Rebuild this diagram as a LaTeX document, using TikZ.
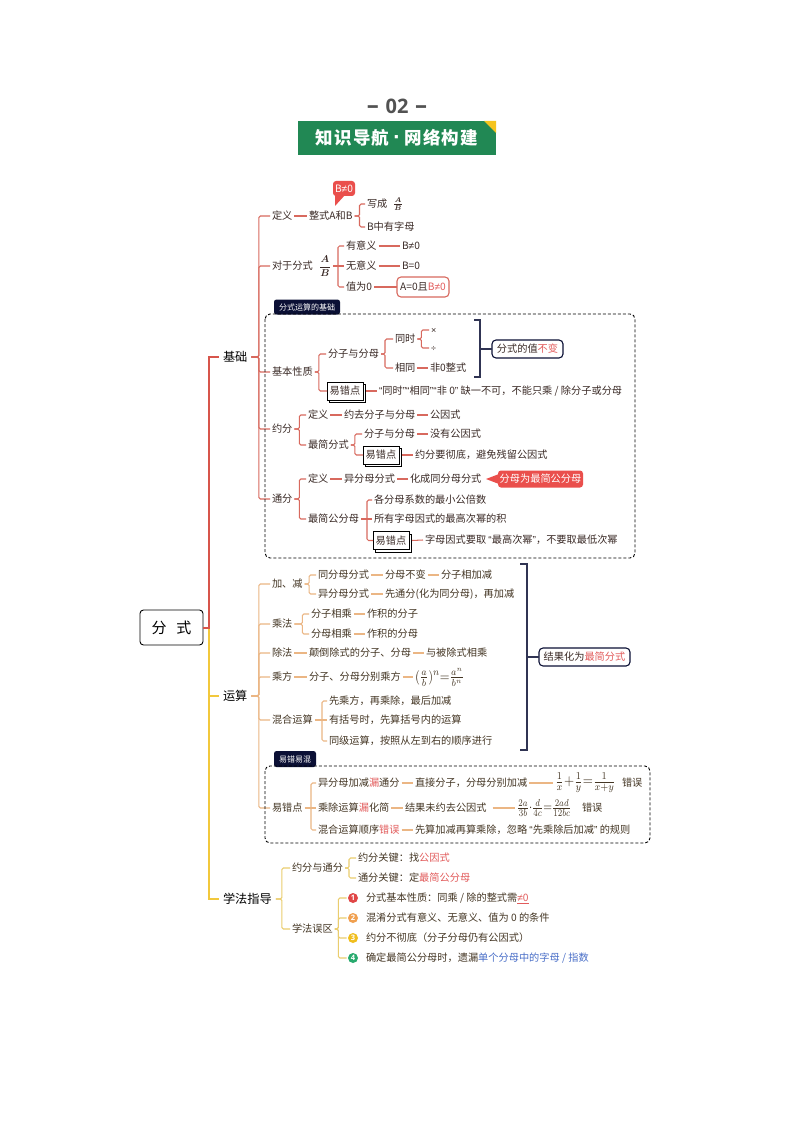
\documentclass[tikz,border=0pt]{standalone}
\usepackage{amsmath}
\usepackage{graphicx}
\usepackage{fontspec}
\setmainfont{Noto Sans CJK SC}
\newfontfamily\numfont{Open Sans}
\newfontfamily\lsf{Liberation Sans}
\usetikzlibrary{shadows}
\definecolor{rtx}{HTML}{E25B5B}
\definecolor{rl}{HTML}{D8695E}
\definecolor{ol}{HTML}{EBB684}
\definecolor{yl}{HTML}{EACD6E}
\definecolor{navy}{HTML}{0B1035}
\definecolor{txa}{HTML}{3A2A26}
\definecolor{txb}{HTML}{443624}
\definecolor{redf}{HTML}{EA4F4C}
\definecolor{bang}{RGB}{33,136,84}
\definecolor{corn}{RGB}{245,196,30}
\definecolor{mainy}{RGB}{242,200,60}
\definecolor{mainr}{RGB}{215,85,75}
\definecolor{cA}{RGB}{224,70,70}
\definecolor{cB}{RGB}{240,160,80}
\definecolor{cC}{RGB}{240,190,30}
\definecolor{cD}{RGB}{40,170,110}
\definecolor{bluet}{HTML}{4A6FC8}
\newcommand{\rdt}[1]{\textcolor{rtx}{#1}}
\newcommand{\neqt}{{\lsf ≠}}
\newcommand{\lqt}{{\lsf “}}
\newcommand{\rqt}{{\lsf ”}}
\tikzset{
 tx/.style={anchor=west,xshift=-2pt,inner sep=0pt,outer sep=2pt,text=txa,font=\fontsize{10.2}{12}\selectfont,text height=8.6pt,text depth=1.6pt},
 txo/.style={tx,text=txb},
 lv/.style={anchor=west,xshift=-4pt,inner sep=0pt,outer sep=4pt,text=black,font=\fontsize{12.2}{14}\selectfont,text height=10.4pt,text depth=1.8pt},
 rk/.style={draw=rl,line width=1.05pt,rounded corners=1.5pt},
 ok/.style={draw=ol,line width=1.05pt,rounded corners=1.5pt},
 yk/.style={draw=yl,line width=1.05pt,rounded corners=1.5pt},
 navyk/.style={draw=navy!85,line width=1.1pt},
 errbox/.style={draw=black,fill=white,line width=0.8pt,minimum width=36pt,minimum height=18pt,inner sep=0pt,outer sep=0pt,text=txa,font=\fontsize{10.2}{12}\selectfont,copy shadow={opacity=1,fill=white,draw=black,shadow xshift=2.4pt,shadow yshift=-2.4pt}},
 pill/.style={draw=#1,line width=1.1pt,rounded corners=4pt,fill=white,inner sep=0pt,outer sep=0pt,text=txa,font=\fontsize{10.2}{12}\selectfont},
 tagbox/.style={fill=navy,rounded corners=2.5pt,text=white,inner sep=0pt,font=\fontsize{8}{10}\selectfont},
 dbox/.style={draw=black,dash pattern=on 3pt off 2pt,line width=0.9pt,rounded corners=5pt},
 numc/.style={circle,minimum size=10pt,inner sep=0pt,outer sep=1.5pt,fill=#1,text=white,font=\numfont\bfseries\fontsize{7.5}{8}\selectfont},
 callout/.style={fill=redf,rounded corners=3pt,inner sep=0pt,text=white,font=\fontsize{10.2}{12}\selectfont},
 mth/.style={inner sep=0pt,outer sep=2pt,text=txa}
}
\begin{document}
\begin{tikzpicture}[x=1pt,y=-1pt]
\useasboundingbox (0,0) rectangle (794,1123);
\fill[white] (0,0) rectangle (794,1123);
% title
\node[inner sep=0pt,text=black!68,font=\numfont\bfseries\fontsize{20}{22}\selectfont] (ttl) at (397,106) {{\fontsize{24}{24}\selectfont –}\,\,02\,\,{\fontsize{24}{24}\selectfont –}};
\node[fill=bang,minimum width=198pt,minimum height=34pt,inner sep=0pt] (ban) at (397,138) {};
\node[inner sep=0pt,text=white,font=\bfseries\fontsize{17.5}{18}\selectfont\addfontfeature{LetterSpace=7}] (bant) at (397,138) {知识导航\makebox[15pt]{\lsf\bfseries\fontsize{22}{22}\selectfont ·}网络构建};
\fill[corn] (484,121) -- (496,121) -- (496,133) -- cycle;

% root
\node[draw=black,line width=0.9pt,rounded corners=3.5pt,fill=white,minimum width=63pt,minimum height=35pt,inner sep=0pt,font=\fontsize{15}{17}\selectfont] (root) at (171.5,627.5) {分\hspace{10pt}式};
\node[lv] (jc) at (223,357) {基础};
\node[lv] (ys) at (223,696) {运算};
\node[lv] (xf) at (223,899) {学法指导};
\draw[draw=mainy,line width=2pt] (root.east) -- ++(6,0) |- (xf.west);
\draw[draw=mainy,line width=1.4pt] (209,696) -- (ys.west);
\draw[draw=mainr,line width=2pt] (root.east) -- ++(6,0) |- (jc.west);

% ===== 基础 =====
\node[tx] (a1) at (272,216) {定义};
\node[tx] (a2) at (272,266) {对于分式};
\node[tx] (a3) at (272,372) {基本性质};
\node[tx] (a4) at (272,429) {约分};
\node[tx] (a5) at (272,499) {通分};
\foreach \n in {a1,a2,a3,a4,a5}{\draw[rk] (jc.east) -- ++(7.5,0) |- (\n.west);}
% 定义
\node[tx] (a1b) at (309,216) {整式A和B};
\draw[rk] (a1) -- (a1b);
\node[tx] (a1c) at (367,204) {写成};
\node[mth,anchor=center] (a1f) at (398,204) {$\frac{\boldsymbol{A}}{\boldsymbol{B}}$};
\node[tx] (a1d) at (367,227) {B中有字母};
\draw[rk] (a1b.east) -- ++(5,0) |- (a1c.west);
\draw[rk] (a1b.east) -- ++(5,0) |- (a1d.west);
\fill[redf] (335,195) -- (345,195) -- (335,206) -- cycle;
\node[callout,minimum width=22pt,minimum height=15pt] (nb) at (344,188.5) {B\neqt 0};
% 对于分式
\node[mth,anchor=center] (a2f) at (325,266) {$\displaystyle\frac{\boldsymbol{A}}{\boldsymbol{B}}$};
\node[tx] (a2a) at (346,246) {有意义};
\node[tx] (a2b) at (346,266) {无意义};
\node[tx] (a2c) at (346,287) {值为0};
\draw[rk] (a2f.east) -- (a2b.west);
\draw[rk] (338,266) |- (a2a.west);
\draw[rk] (338,266) |- (a2c.west);
\node[tx] (a2d) at (402,246) {B\neqt 0};
\node[tx] (a2e) at (402,266) {B=0};
\draw[rk] (a2a) -- (a2d);
\draw[rk] (a2b) -- (a2e);
\node[pill=rl,minimum width=52pt,minimum height=20pt] (a2g) at (423,287) {A=0且\rdt{B\neqt 0}};
\draw[rk] (a2c) -- (a2g);
% tag & dashed box 1
\node[tagbox,minimum width=66pt,minimum height=15pt] (tg1) at (307,307) {分式运算的基础};
\draw[dbox] (265,314) rectangle (635,558);
% 基本性质
\node[tx] (b1) at (328,354) {分子与分母};
\node[errbox] (e1) at (345,391) {易错点};
\draw[rk] (a3.east) -- ++(4,0) |- (b1.west);
\draw[rk] (a3.east) -- ++(4,0) |- (e1.west);
\node[tx] (b2) at (395,339) {同时};
\node[tx] (b3) at (395,368) {相同};
\draw[rk] (b1.east) -- ++(4,0) |- (b2.west);
\draw[rk] (b1.east) -- ++(4,0) |- (b3.west);
\node[tx,font=\lsf\fontsize{9}{10}\selectfont] (b4) at (431,330) {×};
\node[tx,font=\lsf\fontsize{9}{10}\selectfont] (b5) at (431,348) {÷};
\draw[rk] (b2.east) -- ++(4,0) |- (b4.west);
\draw[rk] (b2.east) -- ++(4,0) |- (b5.west);
\node[tx] (b6) at (430,368) {非0整式};
\draw[rk] (b3) -- (b6);
\coordinate (br1) at (480,349);
\draw[navyk] (474,320) -- (480,320) -- (480,377) -- (474,377);
\node[pill=navy,minimum width=71pt,minimum height=18pt] (b7) at (527.5,349) {分式的值\rdt{不变}};
\draw[navyk] (br1) -- (b7.west);
\node[tx] (b8) at (379,391) {\lqt 同时\rqt\lqt 相同\rqt\lqt 非 0\rqt\ 缺一不可，不能只乘 / 除分子或分母};
\draw[rk] ([xshift=3pt]e1.east) -- (b8.west);
% 约分
\node[tx] (c1) at (308,415) {定义};
\node[tx] (c2) at (308,445) {最简分式};
\draw[rk] (a4.east) -- ++(5,0) |- (c1.west);
\draw[rk] (a4.east) -- ++(5,0) |- (c2.west);
\node[tx] (c3) at (344,415) {约去分子与分母};
\node[tx] (c4) at (430,415) {公因式};
\draw[rk] (c1) -- (c3); \draw[rk] (c3) -- (c4);
\node[tx] (c5) at (364,434) {分子与分母};
\node[errbox] (e2) at (381,455) {易错点};
\draw[rk] (c2.east) -- ++(4,0) |- (c5.west);
\draw[rk] (c2.east) -- ++(4,0) |- (e2.west);
\node[tx] (c6) at (430,434) {没有公因式};
\draw[rk] (c5) -- (c6);
\node[tx] (c7) at (415,455) {约分要彻底，避免残留公因式};
\draw[rk] ([xshift=3pt]e2.east) -- (c7.west);
% 通分
\node[tx] (d1) at (308,479) {定义};
\node[tx] (d2) at (308,519) {最简公分母};
\draw[rk] (a5.east) -- ++(5,0) |- (d1.west);
\draw[rk] (a5.east) -- ++(5,0) |- (d2.west);
\node[tx] (d3) at (344,479) {异分母分式};
\node[tx] (d4) at (410,479) {化成同分母分式};
\draw[rk] (d1) -- (d3); \draw[rk] (d3) -- (d4);
\fill[redf] (486,479) -- (499,474) -- (499,484) -- cycle;
\node[callout,minimum width=85pt,minimum height=17pt] (d5) at (540.5,479) {分母为最简公分母};
\node[tx] (d6) at (374,500) {各分母系数的最小公倍数};
\node[tx] (d7) at (374,519) {所有字母因式的最高次幂的积};
\node[errbox] (e3) at (391,540.5) {易错点};
\draw[rk] (d2.east) -- (d7.west);
\draw[rk] (367,519) |- (d6.west);
\draw[rk] (367,519) |- (e3.west);
\node[tx] (d8) at (425,540) {字母因式要取 \lqt 最高次幂\rqt ，不要取最低次幂};
\draw[rk] ([xshift=3pt]e3.east) -- (d8.west);

% ===== 运算 =====
\node[txo] (f1) at (272,584) {加、减};
\node[txo] (f2) at (272,624) {乘法};
\node[txo] (f3) at (272,653) {除法};
\node[txo] (f4) at (272,677) {乘方};
\node[txo] (f5) at (272,720) {混合运算};
\node[txo] (f6) at (272,808) {易错点};
\foreach \n in {f1,f2,f3,f4,f5,f6}{\draw[ok] (ys.east) -- ++(7.5,0) |- (\n.west);}
% 加减
\node[txo] (g1) at (318,575) {同分母分式};
\node[txo] (g2) at (318,594) {异分母分式};
\draw[ok] (f1.east) -- ++(4.5,0) |- (g1.west);
\draw[ok] (f1.east) -- ++(4.5,0) |- (g2.west);
\node[txo] (g3) at (385,575) {分母不变};
\node[txo] (g4) at (441,575) {分子相加减};
\node[txo] (g5) at (385,594) {先通分(化为同分母)，再加减};
\draw[ok] (g1) -- (g3); \draw[ok] (g3) -- (g4); \draw[ok] (g2) -- (g5);
% 乘法
\node[txo] (h1) at (311,614) {分子相乘};
\node[txo] (h2) at (311,634) {分母相乘};
\draw[ok] (f2.east) -- ++(8,0) |- (h1.west);
\draw[ok] (f2.east) -- ++(8,0) |- (h2.west);
\node[txo] (h3) at (367,614) {作积的分子};
\node[txo] (h4) at (367,634) {作积的分母};
\draw[ok] (h1) -- (h3); \draw[ok] (h2) -- (h4);
% 除法
\node[txo] (i1) at (309,653) {颠倒除式的分子、分母};
\node[txo] (i2) at (426,653) {与被除式相乘};
\draw[ok] (f3) -- (i1); \draw[ok] (i1) -- (i2);
% 乘方
\node[txo] (j1) at (309,677) {分子、分母分别乘方};
\node[mth,anchor=west,text=txb] (j2) at (413,677) {\scalebox{1.25}[1.45]{$(\frac{a}{b})^n{=}\frac{a^n}{b^n}$}};
\draw[ok] (f4) -- (j1); \draw[ok] (j1) -- (j2);
% 混合运算
\node[txo] (k1) at (329,701) {先乘方，再乘除，最后加减};
\node[txo] (k2) at (329,720) {有括号时，先算括号内的运算};
\node[txo] (k3) at (329,741) {同级运算，按照从左到右的顺序进行};
\draw[ok] (f5) -- (k2);
\draw[ok] (322,720) |- (k1.west);
\draw[ok] (322,720) |- (k3.west);
% bracket 2
\coordinate (br2) at (527,657);
\draw[navyk] (520,564) -- (527,564) -- (527,750) -- (520,750);
\node[pill=navy,minimum width=91pt,minimum height=18pt] (k4) at (584.5,657) {结果化为\rdt{最简分式}};
\draw[navyk] (br2) -- (k4.west);
% tag & dashed 2
\node[tagbox,minimum width=42pt,minimum height=16pt] (tg2) at (295,759) {易错易混};
\draw[dbox] (265,766) rectangle (650,843);
% 易错点
\node[txo] (m1) at (318,783) {异分母加减\rdt{漏}通分};
\node[txo] (m2) at (318,808) {乘除运算\rdt{漏}化简};
\node[txo] (m3) at (318,830) {混合运算顺序\rdt{错误}};
\draw[ok] (f6) -- (m2);
\draw[ok] (311,808) |- (m1.west);
\draw[ok] (311,808) |- (m3.west);
\node[txo] (m4) at (415,783) {直接分子，分母分别加减};
\node[mth,anchor=west,text=txb] (m5) at (553,783) {\scalebox{1.3}[1.5]{$\frac{1}{x}{+}\frac{1}{y}{=}\frac{1}{x+y}$}};
\node[txo] (m6) at (622,783) {错误};
\draw[ok] (m1) -- (m4); \draw[ok] (m4) -- (m5);
\node[txo] (m7) at (405,808) {结果未约去公因式};
\node[mth,anchor=west,text=txb] (m8) at (515,808) {\scalebox{1.12}[1.45]{$\frac{2a}{3b}{\cdot}\frac{d}{4c}{=}\frac{2ad}{12bc}$}};
\node[txo] (m9) at (582,808) {错误};
\draw[ok] (m2) -- (m7); \draw[ok] ([xshift=4pt]m7.east) -- (m8.west);
\node[txo] (m10) at (415,830) {先算加减再算乘除，忽略 \lqt 先乘除后加减\rqt\ 的规则};
\draw[ok] (m3) -- (m10);

% ===== 学法指导 =====
\node[txo] (n1) at (292,868) {约分与通分};
\node[txo] (n2) at (292,929) {学法误区};
\draw[yk] (xf.east) -- ++(6,0) |- (n1.west);
\draw[yk] (xf.east) -- ++(6,0) |- (n2.west);
\node[txo] (n3) at (358,858) {约分关键：找\rdt{公因式}};
\node[txo] (n4) at (358,878) {通分关键：定\rdt{最简公分母}};
\draw[yk] (n1.east) -- ++(4,0) |- (n3.west);
\draw[yk] (n1.east) -- ++(4,0) |- (n4.west);
\node[numc=cA] (p1) at (353,898) {1};
\node[numc=cB] (p2) at (353,918) {2};
\node[numc=cC] (p3) at (353,938) {3};
\node[numc=cD] (p4) at (353,958) {4};
\foreach \n in {p1,p2,p3,p4}{\draw[yk] (n2.east) -- ++(3.5,0) |- (\n.west);}
\node[txo] (q1) at (366,898) {分式基本性质：同乘 / 除的整式需\rdt{\underline{\neqt 0}}};
\node[txo] (q2) at (366,918) {混淆分式有意义、无意义、值为 0 的条件};
\node[txo] (q3) at (366,938) {约分不彻底（分子分母仍有公因式）};
\node[txo] (q4) at (366,958) {确定最简公分母时，遗漏\textcolor{bluet}{单个分母中的字母 / 指数}};
\end{tikzpicture}
\end{document}
